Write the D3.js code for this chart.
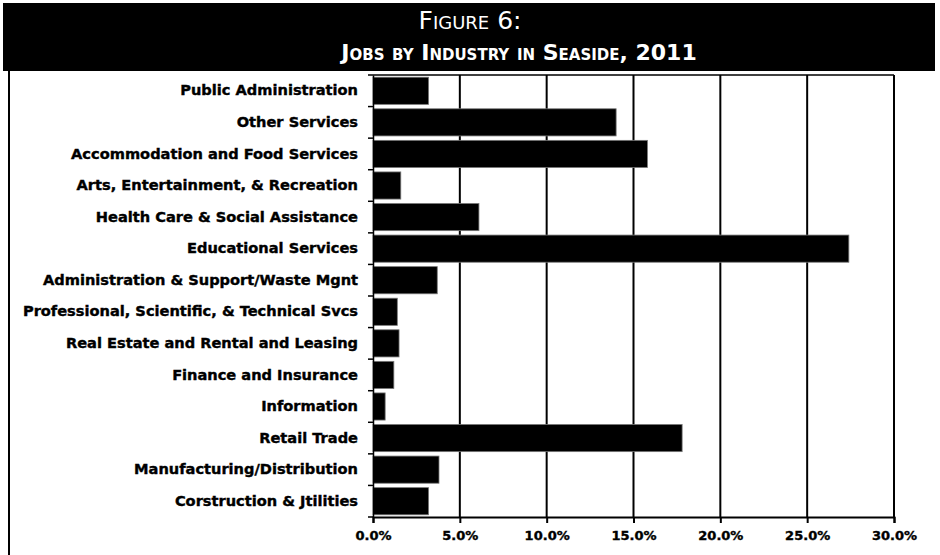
<!DOCTYPE html>
<html>
<head>
<meta charset="utf-8">
<script src="https://cdn.jsdelivr.net/npm/d3@7"></script>
<style>
  body { margin: 0; background: #ffffff; }
  text { font-family: "DejaVu Sans", Verdana, sans-serif; }
</style>
</head>
<body>
<script>
var industries = [
  "Public Administration",
  "Other Services",
  "Accommodation and Food Services",
  "Arts, Entertainment, & Recreation",
  "Health Care & Social Assistance",
  "Educational Services",
  "Administration & Support/Waste Mgnt",
  "Professional, Scientific, & Technical Svcs",
  "Real Estate and Rental and Leasing",
  "Finance and Insurance",
  "Information",
  "Retail Trade",
  "Manufacturing/Distribution",
  "Corstruction & Jtilities"
];
var shares = [3.2, 14.0, 15.8, 1.6, 6.1, 27.4, 3.7, 1.4, 1.5, 1.2, 0.7, 17.8, 3.8, 3.2];
var xTicks = [0, 5, 10, 15, 20, 25, 30];
var titleLines = ["Figure 6:", "Jobs by Industry in Seaside, 2011"];

var width = 940;
var height = 555;
var plot = { left: 373, right: 894, top: 75, bottom: 517 };

var svg = d3.select("body")
  .append("svg")
  .attr("width", width)
  .attr("height", height);

// title band
svg.append("rect")
  .attr("x", 3)
  .attr("y", 3)
  .attr("width", 932)
  .attr("height", 68)
  .attr("fill", "#000000");
svg.selectAll("text.title")
  .data(titleLines)
  .enter()
  .append("text")
  .classed("title", true)
  .attr("x", function (d, i) {
    return i == 0 ? 470 : 519;
  })
  .attr("y", function (d, i) {
    return i == 0 ? 29 : 60;
  })
  .attr("text-anchor", "middle")
  .attr("fill", "#ffffff")
  .attr("font-variant", "small-caps")
  .attr("font-weight", function (d, i) {
    return i == 0 ? "normal" : "bold";
  })
  .attr("font-size", function (d, i) {
    return i == 0 ? "25px" : "22px";
  })
  .text(function (d) {
    return d;
  });

// panel left edge
svg.append("line")
  .attr("x1", 9)
  .attr("y1", 71)
  .attr("x2", 9)
  .attr("y2", height)
  .attr("stroke", "#000000")
  .attr("stroke-width", 2);

var x = d3.scaleLinear()
  .domain([0, 30])
  .range([plot.left, plot.right]);
var y = d3.scaleBand()
  .domain(industries)
  .range([plot.top, plot.bottom])
  .paddingInner(0.14)
  .paddingOuter(0.07);

// gridlines
svg.append("g")
  .selectAll("line")
  .data(xTicks.slice(1))
  .enter()
  .append("line")
  .attr("x1", function (d) {
    return x(d);
  })
  .attr("x2", function (d) {
    return x(d);
  })
  .attr("y1", plot.top)
  .attr("y2", plot.bottom)
  .attr("stroke", "#000000")
  .attr("stroke-width", 2);

svg.append("line")
  .attr("x1", plot.left)
  .attr("x2", plot.right)
  .attr("y1", plot.top)
  .attr("y2", plot.top)
  .attr("stroke", "#000000")
  .attr("stroke-width", 1.5);

// bars
svg.append("g")
  .selectAll("rect")
  .data(shares)
  .enter()
  .append("rect")
  .attr("x", x(0))
  .attr("y", function (d, i) {
    return y(industries[i]);
  })
  .attr("width", function (d) {
    return x(d) - x(0);
  })
  .attr("height", y.bandwidth())
  .attr("fill", "#000000")
  .attr("stroke", "#777777")
  .attr("stroke-width", 0.8);

// category axis
var yAxis = d3.axisLeft(y)
  .tickSize(0)
  .tickPadding(15);
var gy = svg.append("g")
  .attr("transform", "translate(" + plot.left + ",0)")
  .call(yAxis);
gy.select(".domain")
  .attr("stroke", "#000000")
  .attr("stroke-width", 1.5);
gy.selectAll("text")
  .attr("font-family", "\"DejaVu Sans\", Verdana, sans-serif")
  .attr("font-weight", "bold")
  .attr("font-size", "14.6px")
  .attr("fill", "#000000")
  .attr("stroke", "#000000")
  .attr("stroke-width", 0.4);

// little boundary ticks between categories
var bounds = industries.map(function (d) {
  return y(d) - y.step() * y.paddingInner() / 2;
});
bounds.push(plot.bottom);
svg.append("g")
  .selectAll("line")
  .data(bounds)
  .enter()
  .append("line")
  .attr("x1", plot.left - 5)
  .attr("x2", plot.left)
  .attr("y1", function (d) {
    return d;
  })
  .attr("y2", function (d) {
    return d;
  })
  .attr("stroke", "#000000")
  .attr("stroke-width", 1.5);

// value axis
var xAxis = d3.axisBottom(x)
  .tickValues(xTicks)
  .tickSize(6)
  .tickPadding(8)
  .tickFormat(function (d) {
    return d3.format(".1f")(d) + "%";
  });
var gx = svg.append("g")
  .attr("transform", "translate(0," + plot.bottom + ")")
  .call(xAxis);
gx.select(".domain")
  .attr("stroke", "#000000")
  .attr("stroke-width", 2);
gx.selectAll(".tick line")
  .attr("stroke", "#000000")
  .attr("stroke-width", 2);
gx.selectAll("text")
  .attr("font-family", "\"DejaVu Sans\", Verdana, sans-serif")
  .attr("font-weight", "bold")
  .attr("font-size", "13px")
  .attr("fill", "#000000")
  .attr("stroke", "#000000")
  .attr("stroke-width", 0.4);
</script>
</body>
</html>
